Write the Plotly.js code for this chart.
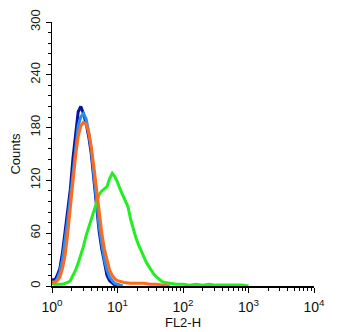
<!DOCTYPE html>
<html><head><meta charset="utf-8">
<script src="https://cdn.plot.ly/plotly-3.0.1.min.js"></script>
<style>html,body{margin:0;padding:0;background:#fff}#c{width:350px;height:332px}</style>
</head><body><div id="c"></div>
<script>
// log10 of fluorescence channel (decades) and counts per series
const darkBlueLog = [0,0.04,0.08,0.12,0.16,0.20,0.24,0.28,0.32,0.36,0.40,0.44,0.48,0.52,0.56,0.60,0.64,0.68,0.72,0.76,0.80,0.84,0.88,0.92,0.96,1.00];
const darkBlueCounts = [8,6,12,20,38,60,85,110,145,175,198,204,196,185,170,150,118,85,62,42,25,12,6,3,1,0];

const lightBlueLog = [0,0.04,0.08,0.12,0.16,0.20,0.24,0.28,0.32,0.36,0.40,0.44,0.48,0.52,0.56,0.60,0.64,0.68,0.72,0.76,0.80,0.84,0.88,0.92,0.96,1.00,1.04,1.08];
const lightBlueCounts = [3,4,8,16,30,50,75,100,130,160,182,192,196,190,175,155,125,95,68,48,30,18,10,6,3,2,1,0];

const orangeLog = [0,0.04,0.08,0.12,0.16,0.20,0.24,0.28,0.32,0.36,0.40,0.44,0.48,0.52,0.56,0.60,0.64,0.68,0.72,0.76,0.80,0.84,0.88,0.92,0.96,1.00,1.10,1.20,1.30,1.40,1.50,1.60,1.70,1.80];
const orangeCounts = [5,4,6,10,20,35,60,90,120,148,170,182,186,184,175,158,135,108,82,60,42,28,18,12,8,6,4,3,3,3,2,2,1,0];

const greenLog = [0,0.04,0.08,0.12,0.16,0.20,0.24,0.28,0.32,0.36,0.40,0.44,0.48,0.52,0.56,0.60,0.64,0.68,0.72,0.76,0.80,0.84,0.88,0.92,0.96,1.00,1.04,1.08,1.12,1.16,1.20,1.24,1.28,1.32,1.36,1.40,1.44,1.48,1.52,1.56,1.60,1.64,1.68,1.72,1.80,1.90,2.00,2.10,2.20,2.30,2.40,2.50,2.60,2.70,2.80,2.90,3.00];
const greenCounts = [3,2,2,2,2,3,4,6,12,18,26,35,45,57,66,76,86,95,104,108,110,113,122,128,124,118,110,103,96,90,76,64,55,47,40,33,27,22,17,13,10,7,5,4,3,2,2,1,2,1,2,1,1,1,1,1,0];

const xTickVals = [1,10,100,1000,10000];
const xTickText = ['10<sup>0</sup>','10<sup>1</sup>','10<sup>2</sup>','10<sup>3</sup>','10<sup>4</sup>'];
const xMinorVals = [];
[1,10,100,1000].forEach(d => { for (let k = 2; k <= 9; k++) xMinorVals.push(d*k); });
const yTickVals = [0,60,120,180,240,300];

function tr(logs, counts, color) {
  return {x: logs.map(v => Math.pow(10, v)), y: counts, type:'scatter', mode:'lines',
          line:{color:color, width:3, shape:'linear'}, hoverinfo:'skip'};
}

const data = [
  tr(darkBlueLog, darkBlueCounts, '#0a14a0'),
  tr(lightBlueLog, lightBlueCounts, '#2a8ef0'),
  tr(greenLog, greenCounts, '#22ee22'),
  tr(orangeLog, orangeCounts, '#ff6a1c')
];

const font = {family:'"Liberation Sans", Arial, sans-serif', color:'#111'};
const layout = {
  width:350, height:332, showlegend:false,
  margin:{l:52, r:36, t:22, b:46},
  paper_bgcolor:'#fff', plot_bgcolor:'#fff',
  font: font,
  xaxis:{type:'log', range:[0,4], showgrid:false, zeroline:false,
    showline:true, linecolor:'#000', linewidth:1.5,
    ticks:'outside', ticklen:5, tickcolor:'#000', ticklabelstandoff:3,
    tickmode:'array', tickvals:xTickVals, ticktext:xTickText,
    tickfont:{size:14, family:font.family, color:'#111'},
    minor:{ticks:'outside', ticklen:3, tickcolor:'#000', tickmode:'array', tickvals:xMinorVals, showgrid:false},
    title:{text:'FL2-H', standoff:0, font:{size:13, family:font.family, color:'#111'}}},
  yaxis:{range:[0,300], showgrid:false, zeroline:false,
    showline:true, linecolor:'#000', linewidth:1.5,
    ticks:'outside', ticklen:5, tickcolor:'#000',
    tickmode:'array', tickvals:yTickVals, tickangle:-90,
    tickfont:{size:13, family:font.family, color:'#222'},
    minor:{ticks:'outside', ticklen:3, tickcolor:'#000', dtick:12, showgrid:false},
    title:{text:'Counts', standoff:4, font:{size:13, family:font.family, color:'#111'}}}
};
Plotly.newPlot('c', data, layout, {staticPlot:true, displayModeBar:false});
</script></body></html>
